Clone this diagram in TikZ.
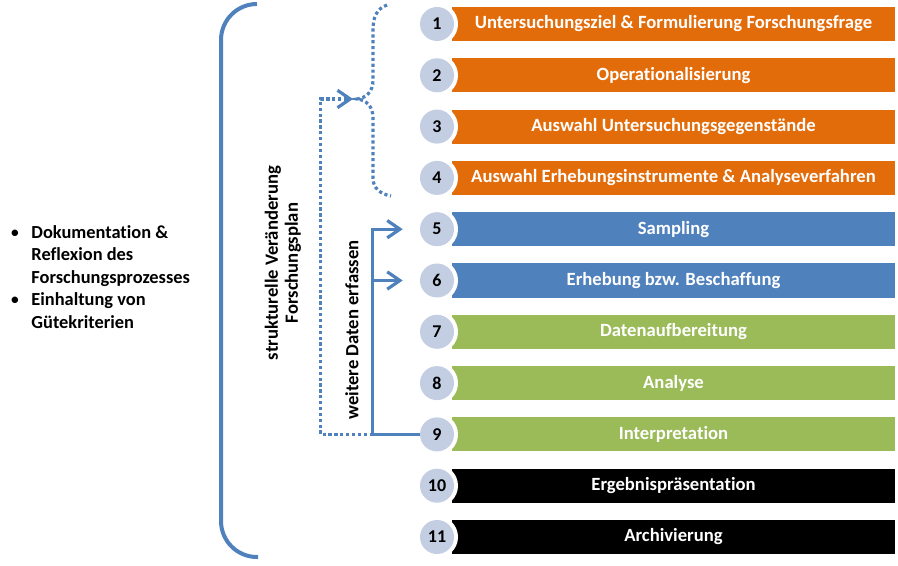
\documentclass[tikz,border=0pt]{standalone}
\usepackage{fontspec}
\setmainfont{Carlito}[Ligatures=CommonOff]
\usetikzlibrary{arrows.meta}
\definecolor{orangeC}{HTML}{E36C0A}
\definecolor{blueC}{HTML}{4F81BD}
\definecolor{greenC}{HTML}{9BBB59}
\definecolor{blackC}{HTML}{000000}
\definecolor{circC}{HTML}{C3CEE2}
\tikzset{
  barbox/.style={rectangle, inner sep=0pt, minimum width=332.25pt, minimum height=25.5pt, text=white, font=\bfseries\fontsize{14}{16}\selectfont},
  numcirc/.style={circle, fill=circC, inner sep=0pt, minimum size=25.5pt, font=\bfseries\fontsize{13.5}{15}\selectfont},
  gapcirc/.style={circle, fill=white, inner sep=0pt, minimum size=31.5pt},
  solidline/.style={draw=blueC, line width=2.4pt},
  dotline/.style={draw=blueC, line width=2.4pt, dash pattern=on 2.4pt off 2pt},
  barb/.style={-{Straight Barb[length=9.5pt,width=13pt]}},
  vtext/.style={rotate=90, align=center, font=\bfseries\fontsize{14}{15}\selectfont},
}
\begin{document}
\begin{tikzpicture}[x=0.75pt,y=-0.75pt]
\useasboundingbox (0,0) rectangle (898,566);
\foreach \i/\c/\t in {
  1/orangeC/{Untersuchungsziel \& Formulierung Forschungsfrage},
  2/orangeC/{Operationalisierung},
  3/orangeC/{Auswahl Untersuchungsgegenstände},
  4/orangeC/{Auswahl Erhebungsinstrumente \& Analyseverfahren},
  5/blueC/{Sampling},
  6/blueC/{Erhebung bzw. Beschaffung},
  7/greenC/{Datenaufbereitung},
  8/greenC/{Analyse},
  9/greenC/{Interpretation},
  10/blackC/{Ergebnispräsentation},
  11/blackC/{Archivierung}}{
  \pgfmathsetmacro{\yy}{24+(\i-1)*51.3}
  \node[barbox, fill=\c] (b\i) at (673.5,\yy) {\t};
  \node[gapcirc] (w\i) at (437,\yy) {};
  \node[numcirc] (c\i) at (437,\yy) {\i};
}
% big brace
\draw[solidline, line width=3pt, rounded corners=27pt] (257,4) -- (221,4) -- (221,557) -- (258,557);
% dotted brace
\coordinate (tip) at (357,99);
\draw[dotline] (387,5) .. controls (376,9) and (373,18) .. (373,30) -- (373,80) .. controls (373,92) and (366,98) .. (tip) .. controls (366,100) and (373,106) .. (373,118) -- (373,178) .. controls (373,188) and (380,194) .. (391,196);
% connectors
\coordinate (j) at ([xshift=-35.25pt]c9.west);
\coordinate (k) at ([xshift=-74.25pt]c9.west);
\coordinate (t5) at ([xshift=-12.75pt]c5.west);
\coordinate (t6) at ([xshift=-12.75pt]c6.west);
\draw[dotline, barb] (j) -- (k) |- ([xshift=-3pt]tip);
\draw[solidline] (c9.west) -- (j);
\draw[solidline, barb] (j) |- (t5);
\draw[solidline, barb] (j |- t6) -- (t6);
% texts
\node[vtext] (sv) at (283,263) {strukturelle Veränderung\\Forschungsplan};
\node[vtext] (wd) at (352,330) {weitere Daten erfassen};
\node[anchor=north west, inner sep=0pt, font=\bfseries\fontsize{13.8}{16.9}\selectfont, align=left] (doc) at (10,222)
  {\begin{tabular}{@{}l@{\hspace{9pt}}l@{}}
   \textmd{\textbullet} & Dokumentation \&\\
   & Reflexion des\\
   & Forschungsprozesses\\
   \textmd{\textbullet} & Einhaltung von\\
   & Gütekriterien
   \end{tabular}};
\end{tikzpicture}
\end{document}
